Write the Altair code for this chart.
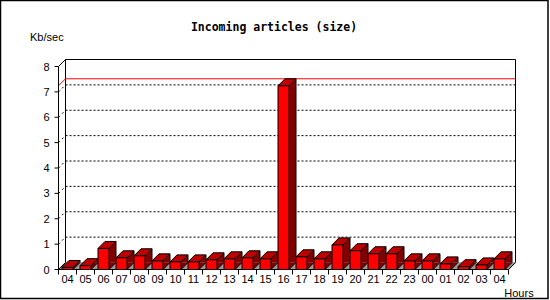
import altair as alt
import pandas as pd

# ---- data ----
hours = ["04", "05", "06", "07", "08", "09", "10", "11", "12", "13", "14", "15",
         "16", "17", "18", "19", "20", "21", "22", "23", "00", "01", "02", "03", "04"]
values = [0.08, 0.15, 0.83, 0.46, 0.54, 0.34, 0.30, 0.30, 0.38, 0.42, 0.46, 0.42,
          7.24, 0.50, 0.42, 0.97, 0.74, 0.62, 0.62, 0.34, 0.34, 0.22, 0.11, 0.18, 0.42]
y_ticks = [0, 1, 2, 3, 4, 5, 6, 7, 8]
grid_levels = [1, 2, 3, 4, 5, 6, 7]
title_text = "Incoming articles (size)"
y_title = "Kb/sec"
x_title = "Hours"

# ---- styles ----
D = 7            # 3D depth in pixels
FRONT = "#FF0000"
TOP = "#C00000"
SIDE = "#800000"
FLOOR = "#999999"
LABEL_FONT = "Liberation Sans"

n = len(hours)
df = pd.DataFrame({"idx": [i + 0.5 for i in range(n)], "hour": hours, "value": values})
xtick_df = pd.DataFrame({"t": list(range(n + 1))})
ytick_df = pd.DataFrame({"level": y_ticks, "lab": [str(v) for v in y_ticks]})
grid_df = pd.DataFrame({"level": grid_levels})
max_df = pd.DataFrame({"m": [max(values)]})
one = pd.DataFrame({"a": [0]})

xs = alt.Scale(domain=[0, n], nice=False, zero=False)
ys = alt.Scale(domain=[0, 8], nice=False)


def XD(v):
    return alt.XDatum(v, scale=xs, axis=None)


def YD(v):
    return alt.YDatum(v, scale=ys, axis=None)


def XF(f):
    return alt.X(f, scale=xs, axis=None)


def YF(f):
    return alt.Y(f, scale=ys, axis=None)


Xf = XF("idx:Q")

border = alt.Chart(one).mark_rect(fillOpacity=0, stroke="black", strokeWidth=1.5).encode(
    x=alt.value(-53), x2=alt.value(494.5), y=alt.value(-66), y2=alt.value(232))

grid = alt.Chart(grid_df).mark_rule(color="black", strokeDash=[2, 2], xOffset=D, x2Offset=D,
                                    yOffset=-D).encode(
    x=XD(0), x2=alt.X2Datum(n), y=YF("level:Q"))

grid_stub = alt.Chart(grid_df).mark_rule(color="black", strokeDash=[2, 3], x2Offset=D,
                                         y2Offset=-D).encode(
    x=XD(0), x2=alt.X2Datum(0), y=YF("level:Q"), y2=alt.Y2("level:Q"))

back_top = alt.Chart(one).mark_rule(color="black", xOffset=D, x2Offset=D, yOffset=-D).encode(
    x=XD(0), x2=alt.X2Datum(n), y=YD(8))
back_left = alt.Chart(one).mark_rule(color="black", xOffset=D, yOffset=-D, y2Offset=-D).encode(
    x=XD(0), y=YD(8), y2=alt.Y2Datum(0))
back_right = alt.Chart(one).mark_rule(color="black", xOffset=D, yOffset=-D, y2Offset=-D).encode(
    x=XD(n), y=YD(8), y2=alt.Y2Datum(0))
diag_tl = alt.Chart(one).mark_rule(color="black", x2Offset=D, y2Offset=-D).encode(
    x=XD(0), x2=alt.X2Datum(0), y=YD(8), y2=alt.Y2Datum(8))
diag_bl = alt.Chart(one).mark_rule(color="black", x2Offset=D, y2Offset=-D).encode(
    x=XD(0), x2=alt.X2Datum(0), y=YD(0), y2=alt.Y2Datum(0))
diag_br = alt.Chart(one).mark_rule(color="black", x2Offset=D, y2Offset=-D).encode(
    x=XD(n), x2=alt.X2Datum(n), y=YD(0), y2=alt.Y2Datum(0))

max_line = alt.Chart(max_df).mark_rule(color="#FF0000", xOffset=D, x2Offset=D, yOffset=-D).encode(
    x=XD(0), x2=alt.X2Datum(n), y=YF("m:Q"))
max_diag = alt.Chart(max_df).mark_rule(color="#FF0000", x2Offset=D, y2Offset=-D).encode(
    x=XD(0), x2=alt.X2Datum(0), y=YF("m:Q"), y2=alt.Y2("m:Q"))

floor = alt.Chart(df).mark_point(shape="M-9.4,0 L9.4,0 L16.4,-7 L-2.4,-7 Z", size=4, filled=True,
                                 fill=FLOOR, stroke=FLOOR, strokeWidth=0.5, opacity=1).encode(
    x=Xf, y=YD(0))

side = alt.Chart(df).mark_bar(width=7, xOffset=9, yOffset=-D, y2Offset=-D, color=SIDE,
                              strokeWidth=0, opacity=1).encode(
    x=Xf, y=YF("value:Q"), y2=alt.Y2Datum(0))

side_edge = alt.Chart(df).mark_rule(color="black", xOffset=12.5, yOffset=-D, y2Offset=-D).encode(
    x=Xf, y=YF("value:Q"), y2=alt.Y2Datum(0))

patch = alt.Chart(df).mark_point(shape="M5.5,-7 L5.5,0 L12.5,-7", size=4, filled=True, fill=SIDE,
                                 stroke="black", strokeWidth=1, opacity=1).encode(x=Xf, y=YD(0))

top = alt.Chart(df).mark_point(shape="M-5.5,0 L5.5,0 L12.5,-7 L1.5,-7 Z", size=4, filled=True,
                               fill=TOP, stroke="black", strokeWidth=1, opacity=1).encode(
    x=Xf, y=YF("value:Q"))

front = alt.Chart(df).mark_bar(width=11, color=FRONT, stroke="black", strokeWidth=1, opacity=1).encode(
    x=Xf, y=YF("value:Q"), y2=alt.Y2Datum(0))

# ---- axes drawn from the tick data ----
x_domain = alt.Chart(one).mark_rule(color="black").encode(x=XD(0), x2=alt.X2Datum(n), y=YD(0))
y_domain = alt.Chart(one).mark_rule(color="black").encode(x=XD(0), y=YD(0), y2=alt.Y2Datum(8))
x_ticks = alt.Chart(xtick_df).mark_rule(color="black", y2Offset=5).encode(
    x=XF("t:Q"), y=YD(0), y2=alt.Y2Datum(0))
y_tick_marks = alt.Chart(ytick_df).mark_rule(color="black", xOffset=-4).encode(
    x=XD(0), x2=alt.X2Datum(0), y=YF("level:Q"))
x_labels = alt.Chart(df).mark_text(font=LABEL_FONT, fontSize=11, color="black", align="center",
                                   baseline="alphabetic", dy=13.5).encode(
    x=Xf, y=YD(0), text="hour:N")
y_labels = alt.Chart(ytick_df).mark_text(font=LABEL_FONT, fontSize=11, color="black", align="right",
                                         baseline="middle", dx=-9, dy=1).encode(
    x=XD(0), y=YF("level:Q"), text="lab:N")

title = alt.Chart(one).mark_text(text=title_text, font="DejaVu Sans Mono", fontWeight="bold",
                                 fontSize=11.5, align="center", baseline="alphabetic",
                                 color="black").encode(x=alt.value(220.5), y=alt.value(-35.5))
ytitle = alt.Chart(one).mark_text(text=y_title, font=LABEL_FONT, fontSize=11, align="left",
                                  baseline="alphabetic", color="black").encode(
    x=alt.value(-23.5), y=alt.value(-25.8))
xtitle = alt.Chart(one).mark_text(text=x_title, font=LABEL_FONT, fontSize=11, align="left",
                                  baseline="alphabetic", color="black").encode(
    x=alt.value(450.8), y=alt.value(230.2))

chart = alt.layer(
    border, grid, grid_stub, back_top, back_left, back_right, max_line, max_diag,
    floor, side, side_edge, patch, top, front, diag_tl, diag_bl, diag_br,
    x_domain, y_domain, x_ticks, y_tick_marks, x_labels, y_labels,
    title, ytitle, xtitle
).properties(
    width=460, height=203,
    autosize=alt.AutoSizeParams(type="none"),
    padding={"left": 53.5, "top": 66.5, "right": 36.5, "bottom": 30.5},
    background="white",
).configure_view(stroke=None)

chart.save("out.html", embed_options={"renderer": "svg", "actions": False})
